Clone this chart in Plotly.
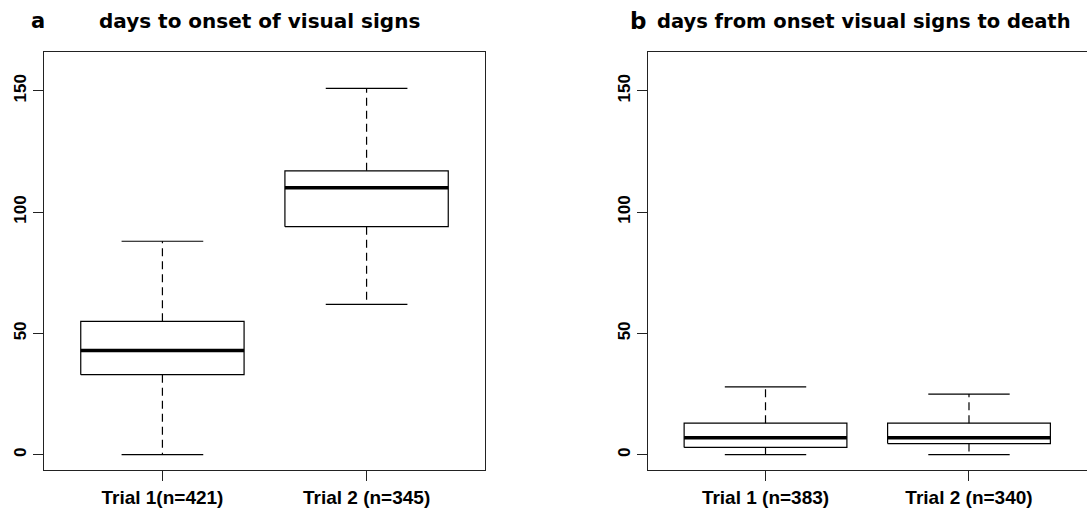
import plotly.graph_objects as go

# ---- data ----
panel_a_labels = ["Trial 1(n=421)", "Trial 2 (n=345)"]
panel_a_lower = [0, 62]
panel_a_q1 = [33, 94]
panel_a_median = [43, 110]
panel_a_q3 = [55, 117]
panel_a_upper = [88, 151]

panel_b_labels = ["Trial 1 (n=383)", "Trial 2 (n=340)"]
panel_b_lower = [0, 0]
panel_b_q1 = [3, 4.6]
panel_b_median = [7, 7]
panel_b_q3 = [13, 13]
panel_b_upper = [28, 25]

y_ticks = [0, 50, 100, 150]
titles = ["days to onset of visual signs", "days from onset visual signs to death"]
panel_letters = ["a", "b"]

BOX_HALF = 0.4
CAP_HALF = 0.2

fig = go.Figure()


def add_boxes(xa, ya, lower, q1, med, q3, upper):
    for i in range(len(med)):
        c = i + 1
        fig.add_trace(go.Scatter(
            x=[c - BOX_HALF, c + BOX_HALF, c + BOX_HALF, c - BOX_HALF, c - BOX_HALF],
            y=[q1[i], q1[i], q3[i], q3[i], q1[i]],
            mode="lines", line=dict(color="black", width=1.2),
            xaxis=xa, yaxis=ya, showlegend=False, hoverinfo="skip"))
        fig.add_trace(go.Scatter(
            x=[c - BOX_HALF, c + BOX_HALF], y=[med[i], med[i]],
            mode="lines", line=dict(color="black", width=3.5),
            xaxis=xa, yaxis=ya, showlegend=False, hoverinfo="skip"))
        fig.add_trace(go.Scatter(
            x=[c, c, None, c, c], y=[q3[i], upper[i], None, q1[i], lower[i]],
            mode="lines", line=dict(color="black", width=1.2, dash="8px,5px"),
            xaxis=xa, yaxis=ya, showlegend=False, hoverinfo="skip"))
        fig.add_trace(go.Scatter(
            x=[c - CAP_HALF, c + CAP_HALF, None, c - CAP_HALF, c + CAP_HALF],
            y=[upper[i], upper[i], None, lower[i], lower[i]],
            mode="lines", line=dict(color="black", width=1.2),
            xaxis=xa, yaxis=ya, showlegend=False, hoverinfo="skip"))


add_boxes("x", "y", panel_a_lower, panel_a_q1, panel_a_median, panel_a_q3, panel_a_upper)
add_boxes("x2", "y2", panel_b_lower, panel_b_q1, panel_b_median, panel_b_q3, panel_b_upper)

W, H = 1087, 508
T, B = 52, 36
tick_font = dict(family="Liberation Sans", size=17, color="black", weight="bold")
xtick_font = dict(family="Liberation Sans", size=19, color="black", weight="bold")

common_x = dict(range=[0.42, 2.58], tickmode="array", tickvals=[1, 2],
                showline=True, linecolor="#222", linewidth=1, ticks="outside",
                ticklen=10, tickcolor="#222", showgrid=False, zeroline=False,
                tickfont=xtick_font, fixedrange=True)
common_y = dict(range=[-6.3, 166], tickmode="array", tickvals=y_ticks,
                ticktext=[str(v) for v in y_ticks], tickangle=-90,
                showline=True, linecolor="#222", linewidth=1, ticks="outside",
                ticklen=10, tickcolor="#222", showgrid=False, zeroline=False,
                tickfont=tick_font, fixedrange=True)

fig.update_layout(
    width=W, height=H,
    margin=dict(l=0, r=0, t=T, b=B),
    paper_bgcolor="white", plot_bgcolor="white",
    xaxis=dict(common_x, domain=[44 / W, 485 / W], ticktext=panel_a_labels, mirror=True, anchor="y"),
    yaxis=dict(common_y, domain=[0, 1], mirror=True, anchor="x"),
    xaxis2=dict(common_x, domain=[647.5 / W, 1.0], ticktext=panel_b_labels, mirror=True, anchor="y2"),
    yaxis2=dict(common_y, domain=[0, 1], mirror=False, anchor="x2"),
)


def py(px):
    # paper y from pixel y (top-origin)
    return 1 + (T - px) / (H - T - B)


fig.add_annotation(text=titles[0], xref="paper", yref="paper",
                   x=259 / W, y=py(21), xanchor="center", yanchor="middle",
                   showarrow=False,
                   font=dict(family="DejaVu Sans", size=20, color="black", weight="bold"))
fig.add_annotation(text=titles[1], xref="paper", yref="paper",
                   x=864 / W, y=py(21), xanchor="center", yanchor="middle",
                   showarrow=False,
                   font=dict(family="DejaVu Sans", size=19.5, color="black", weight="bold"))
fig.add_annotation(text=panel_letters[0], xref="paper", yref="paper",
                   x=38 / W, y=py(21), xanchor="center", yanchor="middle",
                   showarrow=False,
                   font=dict(family="DejaVu Sans", size=21, color="black", weight="bold"))
fig.add_annotation(text=panel_letters[1], xref="paper", yref="paper",
                   x=638 / W, y=py(21), xanchor="center", yanchor="middle",
                   showarrow=False,
                   font=dict(family="DejaVu Sans", size=23, color="black", weight="bold"))

fig.write_html("out.html", config={"displayModeBar": False},
               post_script="document.body.style.margin='0';")
